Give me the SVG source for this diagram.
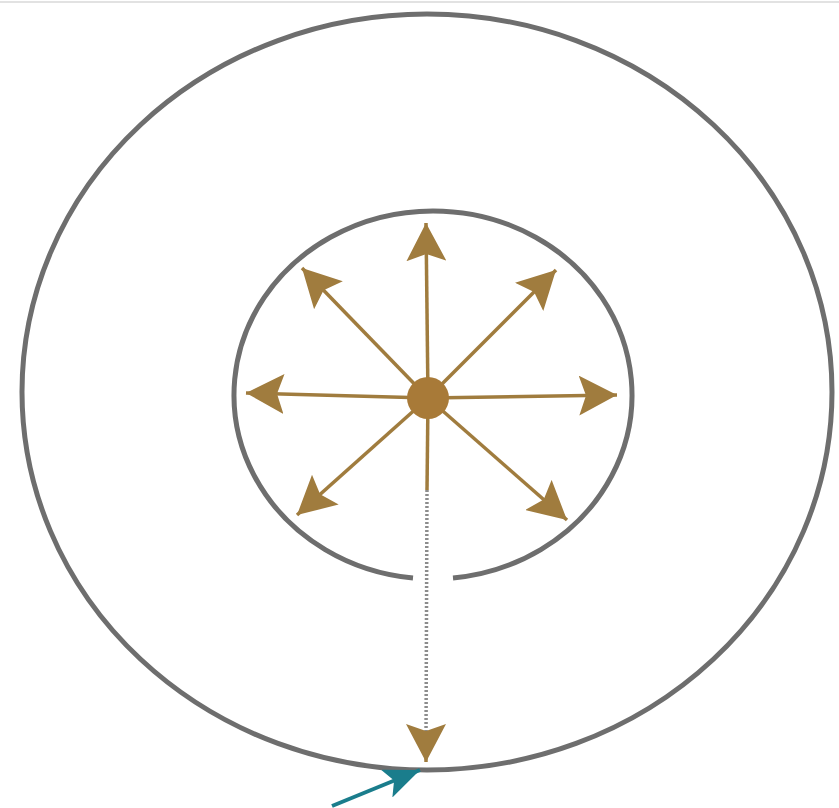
<svg xmlns="http://www.w3.org/2000/svg" width="839" height="808" viewBox="0 0 839 808">
<style>
.ring{fill:none;stroke:#6e6e6e;stroke-width:5}
.ray{stroke:#a07c3e;stroke-width:3.5;fill:none}
.dot{fill:#a87a38}
</style>
<defs>
<marker id="ah" viewBox="0 0 38 40" refX="38" refY="20" markerWidth="38" markerHeight="40" markerUnits="userSpaceOnUse" orient="auto">
<path d="M38,20 L0,0 L7,20 L0,40 Z" fill="#a07c3e"/>
</marker>
<marker id="th" viewBox="0 0 36 30" refX="36" refY="15" markerWidth="36" markerHeight="30" markerUnits="userSpaceOnUse" orient="auto">
<path d="M36,15 L0,0 L8,15 L0,30 Z" fill="#1a7d8c"/>
</marker>
</defs>
<rect x="0" y="0" width="839" height="808" fill="#ffffff"/>
<line x1="0" y1="2" x2="839" y2="2" stroke="#e2e2e2" stroke-width="2"/>
<g id="outer">
<ellipse class="ring" cx="427" cy="392" rx="405" ry="378"/>
</g>
<g id="inner">
<path class="ring" d="M 413,578 A 199 184 0 1 1 453,578"/>
</g>
<g id="connectors">
<line class="ray" x1="428" y1="398" x2="426" y2="223" marker-end="url(#ah)"/>
<line class="ray" x1="428" y1="398" x2="246" y2="393" marker-end="url(#ah)"/>
<line class="ray" x1="428" y1="398" x2="617" y2="395" marker-end="url(#ah)"/>
<line class="ray" x1="428" y1="398" x2="302" y2="268" marker-end="url(#ah)"/>
<line class="ray" x1="428" y1="398" x2="556" y2="270" marker-end="url(#ah)"/>
<line class="ray" x1="428" y1="398" x2="297" y2="515" marker-end="url(#ah)"/>
<line class="ray" x1="428" y1="398" x2="567" y2="520" marker-end="url(#ah)"/>
<line class="ray" x1="428" y1="398" x2="427" y2="490"/>
<line x1="427" y1="490" x2="426" y2="740" stroke="#8c8c8c" stroke-width="3.5" stroke-dasharray="2 2"/>
<line class="ray" x1="426" y1="735" x2="426" y2="762" marker-end="url(#ah)" stroke-width="2"/>
<line x1="332" y1="806" x2="420" y2="770" stroke="#1a7d8c" stroke-width="4" marker-end="url(#th)"/>
</g>
<g id="center">
<circle class="dot" cx="428" cy="398" r="21"/>
</g>
</svg>
